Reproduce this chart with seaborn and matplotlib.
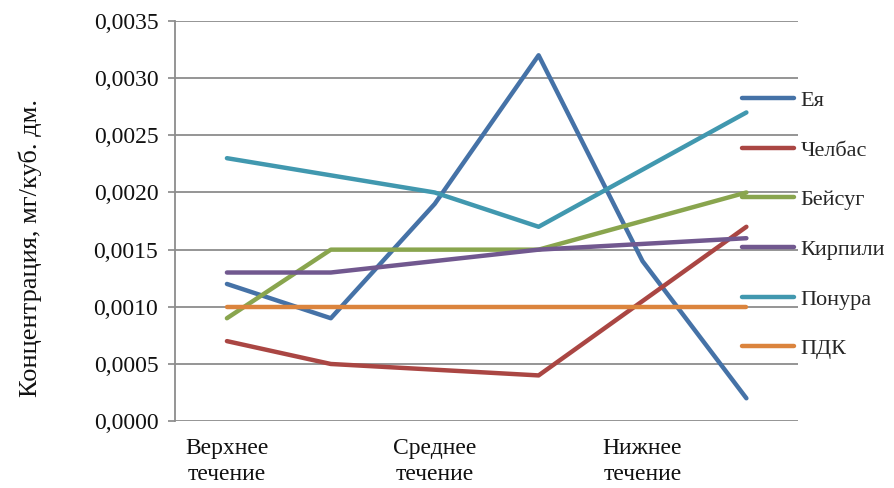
import numpy as np
import pandas as pd
import matplotlib
matplotlib.use("Agg")
import matplotlib.pyplot as plt
import seaborn as sns

# Sampling points along the rivers (six stations, labelled every other one)
stations = [1, 2, 3, 4, 5, 6]
tick_positions = [1, 3, 5]
tick_labels = ["Верхнее\nтечение", "Среднее\nтечение", "Нижнее\nтечение"]

# Concentrations, mg per cubic dm (None = no measurement at that station)
eya = [0.0012, 0.0009, 0.0019, 0.0032, 0.0014, 0.0002]
chelbas = [0.0007, 0.0005, None, 0.0004, None, 0.0017]
beysug = [0.0009, 0.0015, 0.0015, 0.0015, None, 0.0020]
kirpili = [0.0013, 0.0013, None, 0.0015, None, 0.0016]
ponura = [0.0023, None, 0.0020, 0.0017, None, 0.0027]
pdk = [0.0010, 0.0010, 0.0010, 0.0010, 0.0010, 0.0010]

series_names = ["Ея", "Челбас", "Бейсуг", "Кирпили", "Понура", "ПДК"]
series_values = [eya, chelbas, beysug, kirpili, ponura, pdk]
colors = ["#4572A7", "#AA4643", "#89A54E", "#71588F", "#4198AF", "#DB843D"]

rows = []
for name, vals in zip(series_names, series_values):
    for st, v in zip(stations, vals):
        if v is not None:
            rows.append({"station": st, "value": v, "river": name})
df = pd.DataFrame(rows)

sns.set_theme(style="white")
plt.rcParams["font.family"] = ["Liberation Serif", "DejaVu Serif"]

fig = plt.figure(figsize=(8.95, 4.88), dpi=100)
ax = fig.add_axes([0.1955, 0.137, 0.6965, 0.820])

sns.lineplot(data=df, x="station", y="value", hue="river",
             hue_order=series_names, palette=colors, linewidth=3.2,
             ax=ax, legend=False, sort=True, estimator=None,
             solid_capstyle="round")

ax.set_xlim(0.5, 6.5)
ax.set_ylim(0, 0.0035)
yticks = np.arange(0, 0.00351, 0.0005)
ax.set_yticks(yticks)
ax.set_yticklabels([f"{t:.4f}".replace(".", ",") for t in yticks],
                   fontsize=17, color="#111111")
ax.set_xticks(tick_positions)
ax.set_xticklabels(tick_labels, fontsize=17, color="#111111",
                   linespacing=1.3)
ax.tick_params(axis="x", length=0, pad=12)
ax.tick_params(axis="y", length=5, width=1.2, color="#888888",
               direction="out", left=True, pad=7)

ax.yaxis.grid(True, color="#8c8c8c", linewidth=1.3)
ax.set_axisbelow(True)
for side in ["top", "right", "bottom"]:
    ax.spines[side].set_visible(False)
ax.spines["left"].set_color("#8c8c8c")
ax.spines["left"].set_linewidth(1.3)

ax.set_xlabel("")
ax.set_ylabel("")
fig.text(30 / 895, 1 - 248 / 488, "Концентрация, мг/куб. дм.",
         rotation=90, ha="center", va="center", fontsize=19,
         color="#111111")

handles = [plt.Line2D([0], [0], color=c, linewidth=3.2,
                      solid_capstyle="round") for c in colors]
fig.legend(handles, series_names, loc="upper left",
           bbox_to_anchor=(0.829, 0.815), frameon=False, fontsize=16,
           handlelength=2.35, handletextpad=0.3, labelspacing=1.31,
           borderaxespad=0, borderpad=0)

fig.savefig("out.png", dpi=100)
